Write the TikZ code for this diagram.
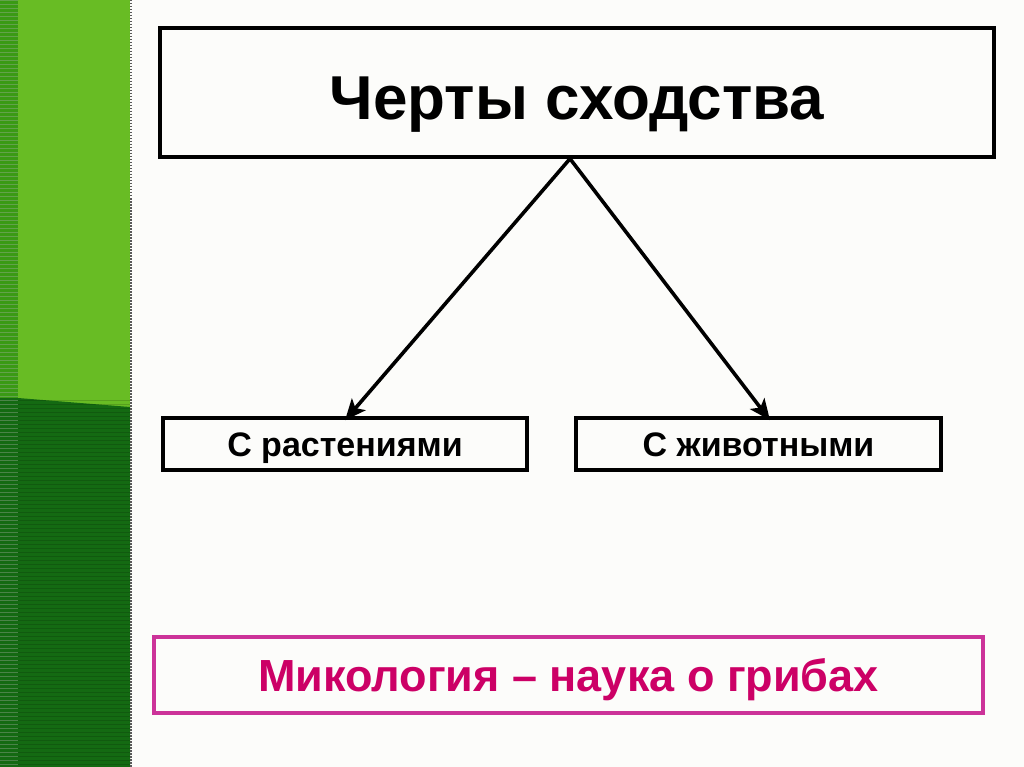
\documentclass[tikz,border=0pt]{standalone}
\usepackage{fontspec}
\setmainfont{Liberation Sans}
\usetikzlibrary{arrows.meta,positioning}
\definecolor{lightgr}{HTML}{68BC24}
\definecolor{stripgr}{HTML}{3A9A14}
\definecolor{darkgr}{HTML}{146A12}
\definecolor{pinkline}{HTML}{CC3399}
\definecolor{pinktext}{HTML}{CC0066}
\tikzset{
  box/.style={draw=black, line width=3.4pt, minimum height=52pt, inner sep=0pt, text height=24.3pt, text depth=0pt, font=\bfseries\fontsize{34}{34}\selectfont},
  link/.style={line width=3.6pt, -{Stealth[length=21pt,width=18pt,inset=5pt]}}
}
\begin{document}
\begin{tikzpicture}[x=1pt,y=-1pt]
			\useasboundingbox (0,0) rectangle (1024,767);
			\fill[fill={rgb,255:red,252;green,252;blue,250}] (0,0) rectangle (1024,767);
			% green band on the left
			\fill[lightgr] (0,0) rectangle (130,767);
			\fill[stripgr] (0,0) rectangle (18,767);
			\fill[darkgr] (0,398) -- (18,398) -- (130,407) -- (130,767) -- (0,767) -- cycle;
			\foreach \y in {0,4,...,764} \draw[black!30,opacity=.35,line width=.8pt] (0,\y) -- (18,\y);
			\foreach \y in {400,404,...,764} \draw[black,opacity=.15,line width=.8pt] (18,\y) -- (130,\y);
			\draw[gray!70!black,line width=2pt,dash pattern=on 1.5pt off 1.5pt] (131,0) -- (131,767);
			% boxes
			\node[box, minimum width=834pt, minimum height=129pt, font=\bfseries\fontsize{62}{62}\selectfont, text height=53.4pt] (title) at (577,92.5) {Черты сходства};
			\node[box, minimum width=364pt] (plants) at (345,444) {С растениями};
			\node[box, minimum width=365pt] (animals) at (758.5,444) {С животными};
			\node[box, draw=pinkline, text=pinktext, minimum width=829pt, minimum height=76pt, font=\bfseries\fontsize{45}{45}\selectfont, text height=32.2pt] (myco) at (568.5,675) {Микология – наука о грибах};
			% arrows
			\coordinate (top) at ([xshift=-7pt]title.south);
			\draw[link] (top) -- ([yshift=-4pt]plants.north);
			\draw[link] (top) -- ([xshift=11.5pt,yshift=-4pt]animals.north);
\end{tikzpicture}
\end{document}
